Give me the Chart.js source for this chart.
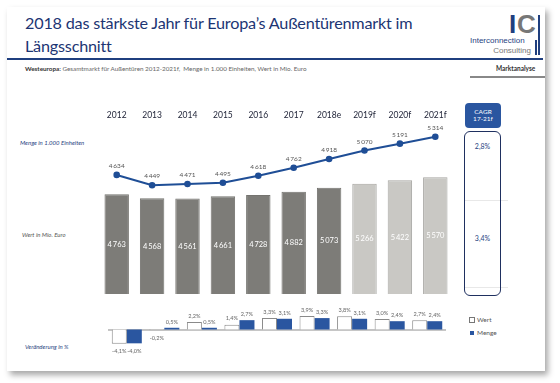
<!DOCTYPE html>
<html>
<head>
<meta charset="utf-8">
<script src="https://cdn.jsdelivr.net/npm/chart.js@4"></script>
<style>
html,body{margin:0;padding:0;background:#fff;width:560px;height:383px;overflow:hidden;font-family:Lato,"DejaVu Sans",sans-serif;}
#card{position:absolute;left:7px;top:7px;width:538px;height:364px;background:#fff;box-shadow:3px 4px 6px rgba(0,0,0,0.35);}
.abs{position:absolute;white-space:nowrap;}
#t1{left:25px;top:11px;font-size:16.2px;letter-spacing:-0.2px;color:#1c3573;line-height:23px;}
#rule1{left:7px;top:58px;width:536px;height:2px;background:#1f3f7f;}
#sub{left:25px;top:65px;font-size:6.3px;color:#666;}
#sub b{color:#333;font-weight:bold;}
#mkt{left:496px;top:65px;font-size:6.5px;font-weight:bold;color:#333;}
#rule2{left:470px;top:76px;width:75px;height:2px;background:#888;}
#logoI{left:509px;top:11px;font-size:26px;font-weight:bold;color:#1f3f7f;line-height:26px;font-family:"Liberation Sans",Arial,sans-serif;}
#logoC{left:517px;top:11px;font-size:26px;font-weight:bold;color:#777;line-height:26px;font-family:"Liberation Sans",Arial,sans-serif;}
#logoV1{left:538px;top:15px;width:1.5px;height:40px;background:#1f3f7f;}
#logoV2{left:535px;top:40px;width:1.5px;height:15px;background:#1f3f7f;}
#logoT1{left:470px;top:36px;font-size:8px;color:#1f3f7f;font-family:"Liberation Sans",Arial,sans-serif;}
#logoT2{left:490px;top:46px;font-size:8px;color:#777;font-family:"Liberation Sans",Arial,sans-serif;width:41px;text-align:right;}
.side{font-size:6px;font-style:italic;}
#cagrHead{left:465px;top:103px;width:36px;height:25px;background:#2a56a0;border-radius:4px;color:#fff;font-size:6.5px;line-height:7px;text-align:center;box-sizing:border-box;padding-top:5px;}
#cagrBox{left:464px;top:131px;width:37px;height:165px;border:1.2px solid #1f3060;border-radius:6px;box-sizing:border-box;}
.cv{font-size:7px;color:#1f3f7f;width:37px;text-align:center;left:464px;}
.faint{height:1px;background:#e8e8e8;}
.leg{font-size:6.5px;color:#555;}
</style>
</head>
<body>
<div id="card"></div>
<div class="abs" id="t1">2018 das stärkste Jahr für Europa’s Außentürenmarkt im<br>Längsschnitt</div>
<div class="abs" id="logoI">I</div><div class="abs" id="logoC">C</div>
<div class="abs" id="logoV1"></div><div class="abs" id="logoV2"></div>
<div class="abs" id="logoT1">Interconnection</div>
<div class="abs" id="logoT2">Consulting</div>
<div class="abs" id="rule1"></div>
<div class="abs" id="sub"><b>Westeuropa:</b> Gesamtmarkt für Außentüren 2012-2021f,&nbsp; Menge in 1.000 Einheiten, Wert in Mio. Euro</div>
<div class="abs" id="mkt">Marktanalyse</div>
<div class="abs" id="rule2"></div>

<div class="abs side" style="left:20px;top:139px;color:#1f3f7f;">Menge in 1.000 Einheiten</div>
<div class="abs side" style="left:22px;top:231px;color:#555;">Wert in Mio. Euro</div>
<div class="abs side" style="left:25px;top:343px;color:#1f3f7f;">Veränderung in %</div>

<div class="abs" id="cagrHead">CAGR<br>17-21f</div>
<div class="abs faint" style="left:464px;top:200px;width:44px;"></div>
<div class="abs faint" style="left:464px;top:287px;width:44px;"></div>
<div class="abs" id="cagrBox"></div>
<div class="abs cv" id="cv1" style="top:142px;"></div>
<div class="abs cv" id="cv2" style="top:234px;"></div>

<div class="abs leg" style="left:469px;top:316px;"><span style="display:inline-block;width:4px;height:4px;border:0.8px solid #777;margin-right:2px;vertical-align:middle;"></span>Wert</div>
<div class="abs leg" style="left:470px;top:329px;"><span style="display:inline-block;width:4px;height:4px;background:#2a56a0;margin-right:3px;vertical-align:middle;"></span>Menge</div>

<canvas id="c1" class="abs" width="366" height="200" style="left:93px;top:100px;"></canvas>
<canvas id="c2" class="abs" width="338" height="62" style="left:108px;top:300px;"></canvas>

<script>
// ---- data ----
const years = ['2012','2013','2014','2015','2016','2017','2018e','2019f','2020f','2021f'];
const wertValues = [4763,4568,4561,4661,4728,4882,5073,5266,5422,5570];
const mengeValues = [4634,4449,4471,4495,4618,4762,4918,5070,5191,5314];
const changeYears = ['2013','2014','2015','2016','2017','2018e','2019f','2020f','2021f'];
const wertChange = [-4.1,-0.2,2.2,1.4,3.3,3.9,3.8,3.0,2.7];
const mengeChange = [-4.0,0.5,0.5,2.7,3.1,3.3,3.1,2.4,2.4];
const cagrLabels = ['2,8%','3,4%'];
const forecastFrom = 7;

document.getElementById('cv1').textContent = cagrLabels[0];
document.getElementById('cv2').textContent = cagrLabels[1];

const FONT = 'Lato, "DejaVu Sans", sans-serif';
const fmtN = v => String(v).replace(/\B(?=(\d{3})+(?!\d))/g, '\u2009');
const fmtP = v => v.toFixed(1).replace('.', ',') + '%';

const labelPlugin = {
  id: 'vlabels',
  afterDatasetsDraw(chart) {
    const ctx = chart.ctx;
    chart.data.datasets.forEach((ds, i) => {
      const cfg = ds.lbl;
      if (!cfg) return;
      const meta = chart.getDatasetMeta(i);
      ctx.save();
      ctx.font = cfg.font;
      ctx.textAlign = 'center';
      ctx.textBaseline = 'middle';
      meta.data.forEach((el, j) => {
        const v = ds.data[j];
        let x = el.x, y;
        if (cfg.mode === 'above') y = el.y - cfg.off;
        else if (cfg.mode === 'center') y = (el.y + el.base) / 2;
        else y = v >= 0 ? el.y - cfg.off : el.y + cfg.offNeg;
        ctx.fillStyle = cfg.color;
        ctx.fillText(cfg.fmt(v), x, y);
      });
      ctx.restore();
    });
  }
};

const zeroLine = {
  id: 'zeroLine',
  beforeDatasetsDraw(chart) {
    const y = chart.scales.y.getPixelForValue(0);
    const a = chart.chartArea, ctx = chart.ctx;
    ctx.save();
    ctx.strokeStyle = '#8a8a8a'; ctx.lineWidth = 1;
    ctx.beginPath(); ctx.moveTo(a.left, y + 0.5); ctx.lineTo(a.right, y + 0.5); ctx.stroke();
    ctx.restore();
  }
};

new Chart(document.getElementById('c1'), {
  type: 'bar',
  data: {
    labels: years,
    datasets: [
      {
        type: 'line', data: mengeValues, yAxisID: 'yL', order: 0,
        borderColor: '#1f4e96', borderWidth: 2, tension: 0,
        pointRadius: 2.3, pointBackgroundColor: '#1f4e96', pointBorderColor: '#1f4e96',
        lbl: { mode: 'above', off: 9, font: '6.5px ' + FONT, color: '#555', fmt: fmtN }
      },
      {
        type: 'bar', data: wertValues, yAxisID: 'yB', order: 1,
        backgroundColor: wertValues.map((v, i) => i >= forecastFrom ? '#c9c8c4' : '#7d7c78'),
        borderColor: wertValues.map((v, i) => i >= forecastFrom ? '#a6a5a1' : '#74736f'),
        borderWidth: 1,
        categoryPercentage: 1, barPercentage: 0.69,
        lbl: { mode: 'center', font: '7.5px ' + FONT, color: '#fff', fmt: fmtN }
      }
    ]
  },
  options: {
    responsive: false, animation: false, devicePixelRatio: 1,
    layout: { padding: { top: 7, bottom: 3, left: 0, right: 0 } },
    plugins: { legend: { display: false }, tooltip: { enabled: false } },
    scales: {
      x: {
        position: 'top', offset: true,
        grid: { display: false, drawTicks: false }, border: { display: false },
        ticks: { color: '#22263a', font: { size: 8.5, family: FONT }, padding: 3, maxRotation: 0, autoSkip: false }
      },
      yB: { display: false, min: 0, max: 8149 },
      yL: { display: false, min: 2511, max: 5556 }
    }
  },
  plugins: [labelPlugin]
});

new Chart(document.getElementById('c2'), {
  type: 'bar',
  data: {
    labels: changeYears,
    datasets: [
      {
        label: 'Wert', data: wertChange,
        backgroundColor: '#ffffff', borderColor: '#8a8a8a', borderWidth: 1,
        categoryPercentage: 0.8, barPercentage: 1,
        lbl: { mode: 'signed', off: 6, offNeg: 8, font: '5.6px ' + FONT, color: '#666', fmt: fmtP }
      },
      {
        label: 'Menge', data: mengeChange,
        backgroundColor: '#2a56a0', borderColor: '#2a56a0', borderWidth: 0,
        categoryPercentage: 0.8, barPercentage: 1,
        lbl: { mode: 'signed', off: 6, offNeg: 8, font: '5.6px ' + FONT, color: '#666', fmt: fmtP }
      }
    ]
  },
  options: {
    responsive: false, animation: false, devicePixelRatio: 1,
    layout: { padding: 0 },
    plugins: { legend: { display: false }, tooltip: { enabled: false } },
    scales: {
      x: { display: false },
      y: { display: false, min: -9.4, max: 8.53 }
    }
  },
  plugins: [zeroLine, labelPlugin]
});
</script>
</body>
</html>
